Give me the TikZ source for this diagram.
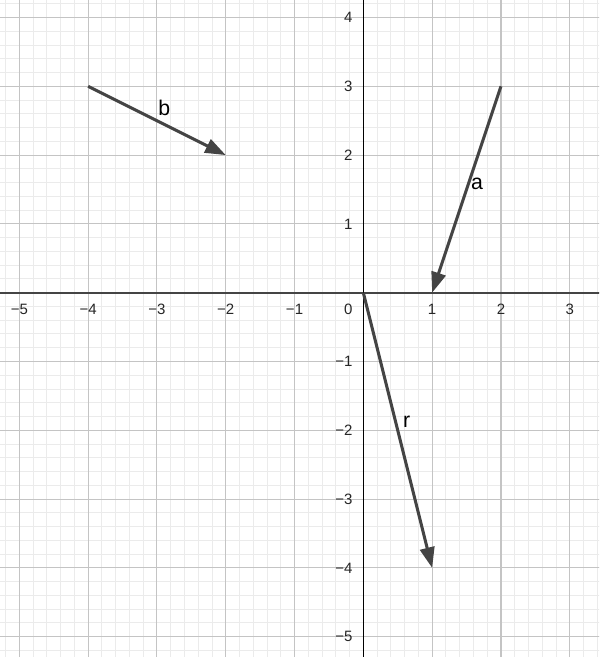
\documentclass[tikz,border=0pt]{standalone}
\usepackage{fontspec}
\setmainfont{Liberation Sans}
\usetikzlibrary{arrows.meta}
\definecolor{vecgray}{HTML}{444444}
\definecolor{minorc}{HTML}{EBEBEB}
\definecolor{majorc}{HTML}{C4C4C4}
\definecolor{xaxisc}{HTML}{444444}
\begin{document}
\begin{tikzpicture}[x=1cm,y=1cm,
  minorgrid/.style={draw=minorc, line width=0.4pt},
  majorgrid/.style={draw=majorc, line width=0.45pt},
  vec/.style={draw=vecgray, line width=1.25pt, -{Triangle[length=8.5pt,width=6pt]}},
  ticklab/.style={font=\fontsize{6.2}{7}\selectfont, text=black!85, inner sep=0pt},
  vlabel/.style={font=\fontsize{8.8}{10}\selectfont, text=black, inner sep=0pt}]
\useasboundingbox[fill=white] (-5.281,-5.295) rectangle (3.426,4.254);
\begin{scope}
\clip (-5.281,-5.295) rectangle (3.426,4.254);
\draw[minorgrid, step=0.2] (-5.6,-5.6) grid (3.6,4.4);
\draw[majorgrid, step=1] (-5.6,-5.6) grid (3.6,4.4);
\draw[draw=xaxisc, line width=0.8pt] (-5.3,0) -- (3.45,0);
\draw[draw=black, line width=0.55pt] (0,-5.3) -- (0,4.3);
\end{scope}
% tick labels
\foreach \x/\t in {-5/−5,-4/−4,-3/−3,-2/−2,-1/−1,1/1,2/2,3/3}
  \node[ticklab] (xl\x) at (\x,-0.245) {\t};
\node[ticklab] (xl0) at (-0.22,-0.245) {0};
\foreach \y/\t in {4/4,3/3,2/2,1/1,-1/−1,-2/−2,-3/−3,-4/−4,-5/−5}
  \node[ticklab, anchor=east] (yl\y) at (-0.15,\y) {\t};
% vector endpoints
\coordinate (b0) at (-4,3);
\coordinate (b1) at (-2,2);
\coordinate (a0) at (2,3);
\coordinate (a1) at (1,0);
\coordinate (r0) at (0,0);
\coordinate (r1) at (1,-4);
\draw[vec] (b0) -- (b1);
\draw[vec] (a0) -- (a1);
\draw[vec] (r0) -- (r1);
\node[vlabel] (lb) at (-2.893,2.692) {b};
\node[vlabel] (la) at (1.653,1.58) {a};
\node[vlabel] (lr) at (0.631,-1.875) {r};
\end{tikzpicture}
\end{document}
